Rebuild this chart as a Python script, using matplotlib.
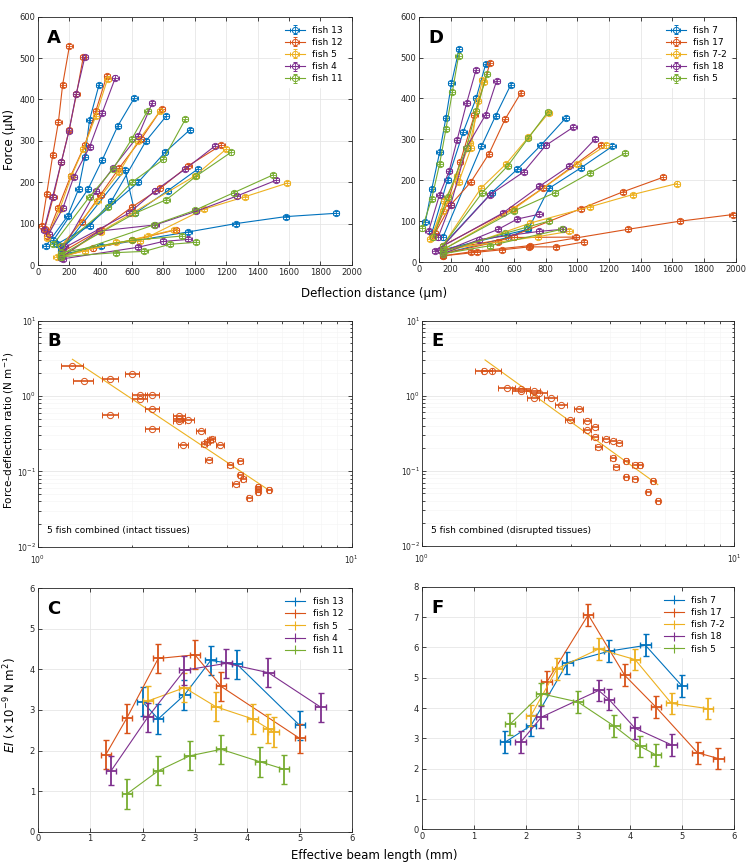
import matplotlib
matplotlib.use('Agg')
import matplotlib.pyplot as plt
from matplotlib.ticker import LogLocator, NullFormatter

# MATLAB default line colours
colors = ['#0072BD', '#D95319', '#EDB120', '#7E2F8E', '#77AC30']

##### panel A : force vs deflection, intact tissues (one list of lines per fish)
a_names = ['fish 13', 'fish 12', 'fish 5', 'fish 4', 'fish 11']
a_fish13 = [
    [(50, 45), (190, 118), (260, 183), (300, 260), (330, 350), (391, 436)],
    [(100, 60), (320, 183), (410, 253), (510, 336), (616, 404)],
    [(120, 50), (330, 95), (470, 155), (690, 300), (817, 359)],
    [(150, 40), (640, 200), (810, 272), (970, 327)],
    [(150, 25), (400, 45), (960, 80), (1260, 100), (1580, 117), (1900, 125)],
    [(150, 35), (556, 230), (620, 125), (830, 180), (1020, 232)],
]
a_fish12 = [
    [(25, 94), (57, 171), (96, 266), (132, 346), (159, 436), (202, 529)],
    [(45, 88), (100, 165), (150, 248), (200, 326), (247, 413), (290, 502)],
    [(60, 70), (130, 138), (210, 215), (300, 290), (370, 372), (440, 457)],
    [(150, 45), (280, 105), (400, 170), (520, 235), (660, 305), (790, 378)],
    [(150, 30), (400, 85), (600, 140), (780, 185), (960, 240), (1170, 290)],
    [(150, 20), (350, 40), (600, 60), (880, 85)],
]
a_fish5 = [
    [(60, 65), (140, 135), (215, 215), (290, 280), (370, 360), (445, 450)],
    [(150, 45), (380, 155), (520, 225), (640, 300), (780, 372)],
    [(150, 20), (400, 80), (600, 125), (1000, 215), (1200, 280)],
    [(150, 20), (500, 55), (650, 58), (1060, 135), (1320, 165), (1590, 198)],
    [(120, 20), (300, 35), (700, 70), (870, 85)],
]
a_fish4 = [
    [(40, 85), (95, 165), (150, 248), (200, 325), (245, 413), (300, 502)],
    [(70, 75), (160, 137), (230, 213), (330, 285), (410, 367), (495, 453)],
    [(170, 45), (370, 178), (480, 235), (640, 312), (730, 392)],
    [(160, 40), (580, 125), (750, 180), (940, 232), (1130, 288)],
    [(150, 18), (390, 82), (750, 97), (1010, 130), (1270, 167), (1520, 205)],
    [(160, 15), (640, 43), (800, 57), (960, 62)],
]
a_fish11 = [
    [(100, 50), (330, 165), (480, 232), (600, 305), (700, 373)],
    [(150, 45), (450, 140), (600, 200), (800, 255), (940, 352)],
    [(150, 25), (620, 125), (820, 158), (1010, 215), (1230, 272)],
    [(150, 20), (740, 97), (1000, 132), (1250, 175), (1500, 218)],
    [(150, 20), (500, 30), (680, 33), (840, 50), (1010, 55)],
    [(150, 30), (600, 60), (920, 70)],
]

##### panel D : force vs deflection, disrupted tissues
d_names = ['fish 7', 'fish 17', 'fish 7-2', 'fish 18', 'fish 5']
d_fish7 = [
    [(40, 98), (80, 178), (130, 268), (170, 353), (205, 437), (253, 521)],
    [(80, 70), (180, 200), (280, 319), (360, 400), (421, 484)],
    [(150, 60), (394, 283), (484, 358), (579, 433)],
    [(150, 40), (460, 170), (621, 227), (768, 285), (926, 352)],
    [(150, 30), (690, 80), (820, 180), (1021, 230), (1221, 283)],
    [(150, 20), (560, 60), (680, 80)],
]
d_fish17 = [
    [(100, 70), (200, 140), (326, 195), (442, 265), (543, 349), (644, 414)],
    [(90, 65), (180, 145), (260, 245), (350, 360), (448, 486)],
    [(150, 20), (500, 50), (1020, 130), (1290, 172), (1540, 207)],
    [(150, 15), (330, 25), (700, 40), (1320, 80), (1650, 100), (1980, 116)],
    [(150, 15), (368, 24), (526, 30), (695, 37), (863, 37), (1042, 49)],
    [(150, 30), (600, 60), (989, 61)],
    [(150, 40), (590, 130), (780, 180), (1150, 285)],
]
d_fish72 = [
    [(70, 57), (150, 125), (250, 195), (330, 280), (370, 395), (400, 445)],
    [(80, 60), (160, 150), (240, 210), (320, 290), (410, 440)],
    [(150, 40), (390, 180), (550, 240), (690, 305), (820, 365)],
    [(150, 30), (600, 130), (1000, 240), (1180, 285)],
    [(150, 20), (700, 95), (1080, 135), (1350, 165), (1630, 192)],
    [(150, 30), (750, 62), (950, 75)],
]
d_fish18 = [
    [(60, 75), (130, 165), (190, 222), (240, 298), (300, 388), (360, 470)],
    [(120, 60), (200, 140), (300, 280), (420, 360), (490, 443)],
    [(130, 30), (450, 165), (660, 220), (800, 285), (975, 330)],
    [(100, 28), (530, 120), (760, 185), (950, 235), (1110, 300)],
    [(150, 25), (500, 80), (620, 105), (760, 117)],
    [(150, 20), (380, 55), (760, 75), (910, 80)],
]
d_fish5 = [
    [(20, 82), (80, 155), (130, 240), (170, 325), (210, 415), (250, 505)],
    [(90, 60), (180, 160), (300, 280), (360, 370), (430, 460)],
    [(150, 40), (400, 170), (560, 235), (690, 303), (815, 368)],
    [(150, 30), (600, 125), (860, 170), (1080, 218), (1300, 266)],
    [(150, 25), (540, 70), (680, 85), (820, 100)],
    [(150, 20), (450, 40), (900, 80)],
]

##### panel B : force-deflection ratio vs beam length (intact)
b_x = [1.29, 1.40, 1.70, 2.00, 2.11, 2.11, 2.31, 2.31, 1.70, 2.32, 2.82, 2.82, 2.82, 3.02,
       2.90, 3.30, 3.39, 3.47, 3.54, 3.60, 3.81, 3.50, 4.10, 4.41, 4.41, 4.52, 4.27, 4.72,
       5.02, 5.02, 5.02, 5.44]
b_y = [2.53, 1.60, 1.66, 1.96, 1.03, 0.90, 1.03, 0.672, 0.56, 0.36, 0.537, 0.495, 0.46, 0.48,
       0.224, 0.347, 0.23, 0.245, 0.26, 0.266, 0.222, 0.141, 0.121, 0.137, 0.089, 0.079, 0.067,
       0.044, 0.0626, 0.059, 0.054, 0.057]
b_xerr = [0.10, 0.10, 0.10, 0.10, 0.12, 0.12, 0.12, 0.12, 0.10, 0.12, 0.12, 0.12, 0.12, 0.12,
          0.10, 0.10, 0.08, 0.08, 0.08, 0.08, 0.10, 0.10, 0.10, 0.08, 0.08, 0.08, 0.10,
          0.08, 0.08, 0.08, 0.08, 0.08]
b_fit_x = [1.29, 5.44]
b_fit_y = [3.07, 0.0565]

##### panel E : force-deflection ratio vs beam length (disrupted)
e_x = [1.58, 1.675, 1.87, 2.08, 2.08, 2.28, 2.37, 2.28, 2.59, 2.80, 3.18, 2.98, 3.38, 3.38,
       3.58, 3.58, 3.68, 3.88, 4.09, 4.29, 4.09, 4.19, 4.51, 4.51, 4.81, 4.81, 4.99, 5.52,
       5.31, 5.70]
e_y = [2.14, 2.14, 1.27, 1.23, 1.14, 1.14, 1.08, 0.93, 0.93, 0.764, 0.662, 0.472, 0.458, 0.355,
       0.389, 0.286, 0.206, 0.264, 0.251, 0.236, 0.149, 0.113, 0.136, 0.083, 0.077, 0.118,
       0.118, 0.0734, 0.0525, 0.0393]
e_xerr = [0.10, 0.12, 0.12, 0.14, 0.14, 0.12, 0.14, 0.10, 0.12, 0.12, 0.10, 0.10, 0.10, 0.10,
          0.10, 0.10, 0.10, 0.10, 0.10, 0.10, 0.08, 0.08, 0.08, 0.08, 0.08, 0.08, 0.08, 0.08,
          0.08, 0.08]
e_fit_x = [1.595, 5.70]
e_fit_y = [3.0, 0.0657]

##### panel C : EI vs effective beam length (intact)
c_x = [
    [2.0, 2.3, 2.8, 3.3, 3.8, 5.0],
    [1.3, 1.7, 2.3, 3.0, 3.5, 5.0],
    [2.1, 2.8, 3.4, 4.1, 4.4, 4.5],
    [1.4, 2.1, 2.8, 3.6, 4.4, 5.4],
    [1.7, 2.3, 2.9, 3.5, 4.25, 4.7],
]
c_y = [
    [3.20, 2.78, 3.37, 4.22, 4.13, 2.62],
    [1.90, 2.80, 4.27, 4.36, 3.58, 2.30],
    [3.22, 3.55, 3.08, 2.78, 2.54, 2.46],
    [1.50, 2.82, 3.98, 4.15, 3.92, 3.07],
    [0.93, 1.50, 1.87, 2.03, 1.72, 1.54],
]

##### panel F : EI vs effective beam length (disrupted)
f_x = [
    [1.6, 2.1, 2.8, 3.6, 4.3, 5.0],
    [2.4, 3.2, 3.9, 4.5, 5.3, 5.7],
    [2.1, 2.6, 3.4, 4.1, 4.8, 5.5],
    [1.9, 2.3, 3.4, 3.6, 4.1, 4.8],
    [1.7, 2.3, 3.0, 3.7, 4.2, 4.5],
]
f_y = [
    [2.87, 3.42, 5.50, 5.88, 6.07, 4.73],
    [4.85, 7.08, 5.08, 4.03, 2.52, 2.33],
    [3.75, 5.30, 5.95, 5.60, 4.15, 3.98],
    [2.87, 3.70, 4.58, 4.28, 3.33, 2.78],
    [3.47, 4.47, 4.20, 3.40, 2.73, 2.45],
]

plt.rcParams['font.family'] = ['DejaVu Sans']
plt.rcParams['font.size'] = 7

fig = plt.figure(figsize=(7.48, 8.65), dpi=100)


def style_axes(ax):
    ax.grid(True, color='#e6e6e6', linewidth=0.6)
    ax.set_axisbelow(True)
    ax.tick_params(direction='in', top=True, right=True, labelsize=6,
                   length=3, width=0.6, colors='#262626', pad=2)
    ax.tick_params(which='minor', direction='in', top=True, right=True,
                   length=1.8, width=0.5)
    for sp in ax.spines.values():
        sp.set_color('#262626')
        sp.set_linewidth(0.6)


def panel_label(ax, letter):
    ax.text(0.03, 0.95, letter, transform=ax.transAxes, fontsize=13,
            fontweight='bold', va='top', ha='left')


def force_panel(ax, fish_lines, names, xerr, yerr):
    for k, lines in enumerate(fish_lines):
        for j, line in enumerate(lines):
            xs = [p[0] for p in line]
            ys = [p[1] for p in line]
            ax.errorbar(xs, ys, xerr=xerr, yerr=yerr, color=colors[k], lw=0.8,
                        marker='o', mfc='none', ms=4.5, mew=0.7,
                        elinewidth=0.6, capsize=1.2,
                        label=names[k] if j == 0 else None)
    ax.set_xlim(0, 2000)
    ax.set_ylim(0, 600)
    ax.set_xticks(range(0, 2001, 200))
    ax.set_yticks(range(0, 601, 100))
    style_axes(ax)
    ax.legend(loc='upper right', fontsize=6.5, frameon=True, edgecolor='white',
              framealpha=1, handlelength=2.2, borderaxespad=0.6, labelspacing=0.35)


def ratio_panel(ax, x, y, xerr, fx, fy, note):
    ax.plot(fx, fy, color='#EDB120', lw=0.8)
    ax.errorbar(x, y, xerr=xerr, fmt='o', color='#D95319', mfc='none', ms=4.5,
                mew=0.7, elinewidth=1.2, capsize=2)
    ax.set_xscale('log')
    ax.set_yscale('log')
    ax.set_xlim(1, 10)
    ax.set_ylim(0.01, 10)
    ax.xaxis.set_major_locator(LogLocator(base=10, numticks=5))
    ax.yaxis.set_major_locator(LogLocator(base=10, numticks=5))
    ax.xaxis.set_minor_locator(LogLocator(base=10, subs=range(2, 10), numticks=10))
    ax.yaxis.set_minor_locator(LogLocator(base=10, subs=range(2, 10), numticks=10))
    ax.xaxis.set_minor_formatter(NullFormatter())
    ax.yaxis.set_minor_formatter(NullFormatter())
    style_axes(ax)
    ax.tick_params(axis='x', labelsize=5.5, pad=5)
    ax.tick_params(axis='y', labelsize=5.5, pad=1)
    ax.grid(True, which='minor', color='#f3f3f3', linewidth=0.4)
    ax.text(0.03, 0.05, note, transform=ax.transAxes, fontsize=6.5, va='bottom')


def ei_panel(ax, xs, ys, names, ymax):
    for k in range(len(xs)):
        ax.plot(xs[k], ys[k], color=colors[k], lw=0.8)
        ax.errorbar(xs[k], ys[k], xerr=0.1, yerr=0.36, fmt='none', ecolor=colors[k],
                    elinewidth=1.3, capsize=2.5, capthick=1.0)
        ax.errorbar([], [], xerr=0.1, yerr=0.36, color=colors[k], lw=0.8,
                    elinewidth=0.8, capsize=2, label=names[k])
    ax.set_xlim(0, 6)
    ax.set_ylim(0, ymax)
    ax.set_xticks(range(0, 7))
    ax.set_yticks(range(0, ymax + 1))
    style_axes(ax)
    ax.legend(loc='upper right', fontsize=6.5, frameon=True, edgecolor='white',
              framealpha=1, handlelength=2.2, borderaxespad=0.6, labelspacing=0.35)


# axes positions [left, bottom, width, height] in figure fraction
axA = fig.add_axes([0.0504, 0.6936, 0.4198, 0.2871])
axD = fig.add_axes([0.5602, 0.6971, 0.4234, 0.2836])
axB = fig.add_axes([0.0504, 0.3680, 0.4198, 0.2613])
axE = fig.add_axes([0.5638, 0.3688, 0.4175, 0.2605])
axC = fig.add_axes([0.0504, 0.0385, 0.4204, 0.2814])
axF = fig.add_axes([0.5638, 0.0416, 0.4175, 0.2798])

force_panel(axA, [a_fish13, a_fish12, a_fish5, a_fish4, a_fish11], a_names, 20, 5)
force_panel(axD, [d_fish7, d_fish17, d_fish72, d_fish18, d_fish5], d_names, 20, 5)
ratio_panel(axB, b_x, b_y, b_xerr, b_fit_x, b_fit_y, '5 fish combined (intact tissues)')
ratio_panel(axE, e_x, e_y, e_xerr, e_fit_x, e_fit_y, '5 fish combined (disrupted tissues)')
ei_panel(axC, c_x, c_y, a_names, 6)
ei_panel(axF, f_x, f_y, d_names, 8)

for ax, letter in zip([axA, axD, axB, axE, axC, axF], 'ADBECF'):
    panel_label(ax, letter)

# shared axis labels
fig.text(0.5, 1 - 293 / 865, 'Deflection distance (\u03bcm)', ha='center', va='center', fontsize=8.5)
fig.text(0.5, 1 - 855 / 865, 'Effective beam length (mm)', ha='center', va='center', fontsize=8.5)
fig.text(10 / 748, 1 - 140 / 865, 'Force (\u03bcN)', rotation=90, ha='center', va='center', fontsize=8.5)
fig.text(9 / 748, 1 - 430 / 865, 'Force\u2013deflection ratio (N m$^{-1}$)', rotation=90,
         ha='center', va='center', fontsize=7.5)
fig.text(10 / 748, 1 - 705 / 865, '$EI$ (\u00d710$^{-9}$ N m$^{2}$)', rotation=90,
         ha='center', va='center', fontsize=8.5)

fig.savefig('out.png', dpi=100, facecolor='white')
